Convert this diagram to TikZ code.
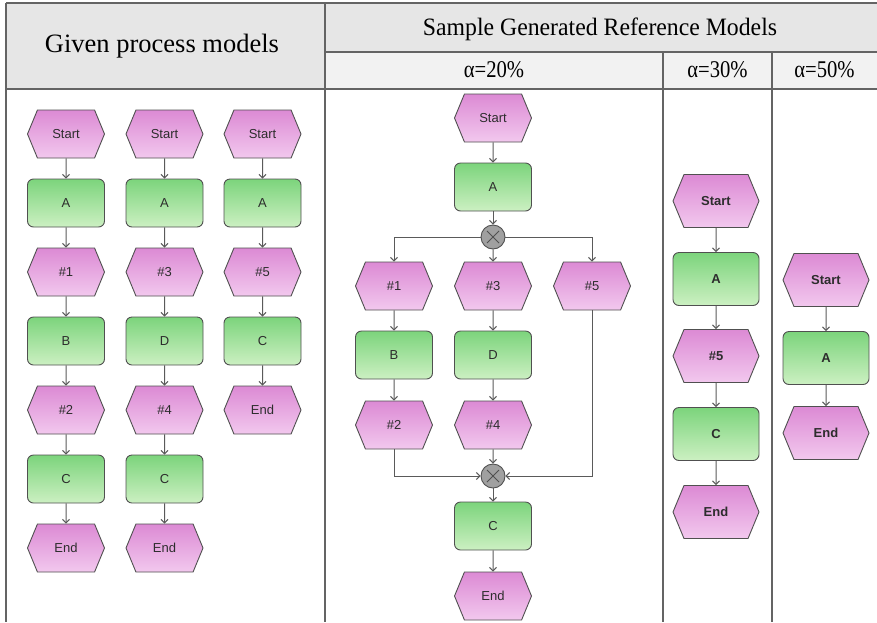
\documentclass[tikz,border=0pt]{standalone}
\usepackage{fontspec}
\usetikzlibrary{arrows.meta,shapes.symbols}
\setmainfont{Liberation Serif}
\newfontfamily\givenfont{Liberation Serif}
\newfontfamily\hdrfont[FakeStretch=0.95]{Liberation Serif}
\newfontfamily\alphafont[FakeStretch=0.86]{Liberation Serif}
\newfontfamily\lblfont{Liberation Sans}
\definecolor{gridc}{RGB}{100,100,100}
\definecolor{hdrfill}{RGB}{230,230,230}
\definecolor{subfill}{RGB}{242,242,242}
\definecolor{edgec}{RGB}{80,80,80}
\definecolor{linec}{RGB}{90,90,90}
\definecolor{evtop}{RGB}{220,138,212}
\definecolor{evbot}{RGB}{242,200,238}
\definecolor{fntop}{RGB}{124,212,124}
\definecolor{fnbot}{RGB}{204,240,194}
\definecolor{gwfill}{RGB}{160,160,160}
\definecolor{txtc}{RGB}{45,45,45}
\tikzset{
  evbox/.style={shape=signal, signal to=east and west, signal pointer angle=135,
    draw=edgec, line width=0.9pt, top color=evtop, bottom color=evbot,
    minimum width=77pt, minimum height=48pt, inner sep=0pt,
    font=\lblfont\fontsize{13}{15}\selectfont, text=txtc},
  fnbox/.style={rectangle, rounded corners=6pt,
    draw=edgec, line width=0.9pt, top color=fntop, bottom color=fnbot,
    minimum width=77pt, minimum height=48pt, inner sep=0pt,
    font=\lblfont\fontsize{13}{15}\selectfont, text=txtc},
  bignode/.style={minimum width=86pt, minimum height=53pt,
    font=\lblfont\bfseries\fontsize{13}{15}\selectfont},
  xorgate/.style={circle, draw=edgec, line width=0.9pt, fill=gwfill,
    minimum size=24pt, inner sep=0pt,
    path picture={\draw[edgec, line width=0.9pt]
      ([shift={(-6pt,-6pt)}]path picture bounding box.center) --
      ([shift={(6pt,6pt)}]path picture bounding box.center)
      ([shift={(-6pt,6pt)}]path picture bounding box.center) --
      ([shift={(6pt,-6pt)}]path picture bounding box.center);}},
  arr/.style={draw=linec, line width=1pt, -{Straight Barb[length=3.5pt,width=7pt]}},
  grid/.style={draw=gridc, line width=1.5pt},
  hdr/.style={font=\hdrfont\fontsize{25}{28}\selectfont, text=black},
  hdrgiven/.style={font=\givenfont\fontsize{26.5}{30}\selectfont, text=black},
  hdralpha/.style={font=\alphafont\fontsize{24}{28}\selectfont, text=black},
}
\begin{document}
\begin{tikzpicture}[x=1pt,y=-1pt]
\useasboundingbox (0,0) rectangle (877,622);

% header cells
\fill[hdrfill] (6,3) rectangle (325,89);
\fill[hdrfill] (325,3) rectangle (877,52);
\fill[subfill] (325,52) rectangle (877,89);
% table rules
\draw[grid] (6,3) -- (877,3);
\draw[grid] (325,52) -- (877,52);
\draw[grid] (6,89) -- (877,89);
\draw[grid] (6,3) -- (6,622);
\draw[grid] (325,3) -- (325,622);
\draw[grid] (663,52) -- (663,622);
\draw[grid] (772,52) -- (772,622);
% header texts
\node[hdrgiven] (hgiven) at (162,46) {Given process models};
\node[hdr] (hsample) at (600,29) {Sample Generated Reference Models};
\node[hdralpha] (h20) at (494,70) {α=20\%};
\node[hdralpha] (h30) at (717.5,70) {α=30\%};
\node[hdralpha] (h50) at (824.5,70) {α=50\%};

% ---- given model 1
\node[evbox] (m1s) at (66,134) {Start};
\node[fnbox] (m1a) at (66,203) {A};
\node[evbox] (m1e1) at (66,272) {\#1};
\node[fnbox] (m1b) at (66,341) {B};
\node[evbox] (m1e2) at (66,410) {\#2};
\node[fnbox] (m1c) at (66,479) {C};
\node[evbox] (m1end) at (66,548) {End};
\draw[arr] (m1s) -- (m1a);
\draw[arr] (m1a) -- (m1e1);
\draw[arr] (m1e1) -- (m1b);
\draw[arr] (m1b) -- (m1e2);
\draw[arr] (m1e2) -- (m1c);
\draw[arr] (m1c) -- (m1end);

% ---- given model 2
\node[evbox] (m2s) at (164.5,134) {Start};
\node[fnbox] (m2a) at (164.5,203) {A};
\node[evbox] (m2e3) at (164.5,272) {\#3};
\node[fnbox] (m2d) at (164.5,341) {D};
\node[evbox] (m2e4) at (164.5,410) {\#4};
\node[fnbox] (m2c) at (164.5,479) {C};
\node[evbox] (m2end) at (164.5,548) {End};
\draw[arr] (m2s) -- (m2a);
\draw[arr] (m2a) -- (m2e3);
\draw[arr] (m2e3) -- (m2d);
\draw[arr] (m2d) -- (m2e4);
\draw[arr] (m2e4) -- (m2c);
\draw[arr] (m2c) -- (m2end);

% ---- given model 3
\node[evbox] (m3s) at (262.5,134) {Start};
\node[fnbox] (m3a) at (262.5,203) {A};
\node[evbox] (m3e5) at (262.5,272) {\#5};
\node[fnbox] (m3c) at (262.5,341) {C};
\node[evbox] (m3end) at (262.5,410) {End};
\draw[arr] (m3s) -- (m3a);
\draw[arr] (m3a) -- (m3e5);
\draw[arr] (m3e5) -- (m3c);
\draw[arr] (m3c) -- (m3end);

% ---- reference model, alpha = 20%
\node[evbox] (ras) at (493,118) {Start};
\node[fnbox] (raa) at (493,187) {A};
\node[xorgate] (rasplit) at (493,237) {};
\node[evbox] (rae1) at (394,286) {\#1};
\node[evbox] (rae3) at (493,286) {\#3};
\node[evbox] (rae5) at (592,286) {\#5};
\node[fnbox] (rab) at (394,355) {B};
\node[fnbox] (rad) at (493,355) {D};
\node[evbox] (rae2) at (394,425) {\#2};
\node[evbox] (rae4) at (493,425) {\#4};
\node[xorgate] (rajoin) at (493,476) {};
\node[fnbox] (rac) at (493,526) {C};
\node[evbox] (raend) at (493,596) {End};
\draw[arr] (ras) -- (raa);
\draw[arr] (raa) -- (rasplit);
\draw[arr] (rasplit.west) -| (rae1.north);
\draw[arr] (rasplit) -- (rae3);
\draw[arr] (rasplit.east) -| (rae5.north);
\draw[arr] (rae1) -- (rab);
\draw[arr] (rae3) -- (rad);
\draw[arr] (rab) -- (rae2);
\draw[arr] (rad) -- (rae4);
\draw[arr] (rae2.south) |- (rajoin.west);
\draw[arr] (rae4) -- (rajoin);
\draw[arr] (rae5.south) |- (rajoin.east);
\draw[arr] (rajoin) -- (rac);
\draw[arr] (rac) -- (raend);

% ---- reference model, alpha = 30%
\node[evbox,bignode] (rbs) at (716,201) {Start};
\node[fnbox,bignode] (rba) at (716,279) {A};
\node[evbox,bignode] (rbe5) at (716,356) {\#5};
\node[fnbox,bignode] (rbc) at (716,434) {C};
\node[evbox,bignode] (rbend) at (716,512) {End};
\draw[arr] (rbs) -- (rba);
\draw[arr] (rba) -- (rbe5);
\draw[arr] (rbe5) -- (rbc);
\draw[arr] (rbc) -- (rbend);

% ---- reference model, alpha = 50%
\node[evbox,bignode] (rcs) at (826,280) {Start};
\node[fnbox,bignode] (rca) at (826,358) {A};
\node[evbox,bignode] (rcend) at (826,433) {End};
\draw[arr] (rcs) -- (rca);
\draw[arr] (rca) -- (rcend);
\end{tikzpicture}
\end{document}
